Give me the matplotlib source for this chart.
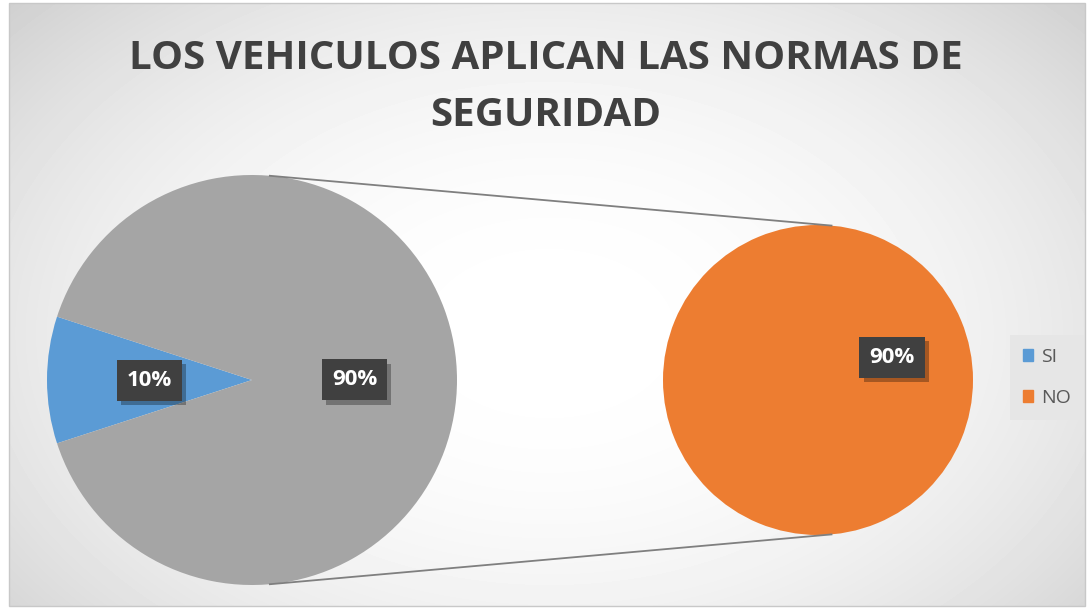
import numpy as np
import matplotlib.pyplot as plt
import matplotlib.patheffects as pe
from matplotlib.patches import Rectangle, Patch

# data
categories = ["SI", "NO"]
values = [10, 90]
main_labels = ["10%", "90%"]      # SI, Otro (grey, split out)
second_values = [90]
second_labels = ["90%"]
title = "LOS VEHICULOS APLICAN LAS NORMAS DE\nSEGURIDAD"

blue = "#5B9BD5"
grey = "#A5A5A5"
orange = "#ED7D31"

W, H = 1091, 611
fig = plt.figure(figsize=(W / 100, H / 100), dpi=100)
ax = fig.add_axes([0, 0, 1, 1])

# radial gradient background inside chart frame
x0, x1, yb, yt = 9, 1085, 5, 608
yy, xx = np.mgrid[0:(yt - yb), 0:(x1 - x0)]
d = np.hypot((xx - 540) / 700, (yy - 330) / 470)
shade = 1 - 0.17 * np.clip(d, 0, 1.2) ** 2.2
ax.imshow(shade, cmap="gray", vmin=0, vmax=1, extent=(x0, x1, yb, yt),
          origin="upper", interpolation="bilinear", zorder=0)
ax.add_patch(Rectangle((x0, yb), x1 - x0, yt - yb, fc="none", ec="#c8c8c8", lw=1, zorder=1))

c1, r1 = (252, H - 380), 205
c2, r2 = (818, H - 380), 155

box = dict(boxstyle="square,pad=0.45", fc="#404040", ec="none")
shadow = [pe.SimplePatchShadow(offset=(3, -3), shadow_rgbFace="black", alpha=0.3), pe.Normal()]

w1, t1 = ax.pie(values, colors=[blue, grey], labels=main_labels, startangle=162,
                center=c1, radius=r1, labeldistance=0.5,
                wedgeprops=dict(linewidth=0))
w2, t2 = ax.pie(second_values, colors=[orange], labels=second_labels, startangle=197,
                center=c2, radius=r2, labeldistance=0.5,
                wedgeprops=dict(linewidth=0))
for t in t1 + t2:
    t.set(ha="center", va="center", color="white", fontsize=16, fontweight="bold",
          family="Open Sans", bbox=box)
    t.get_bbox_patch().set_path_effects(shadow)

# connector lines
a = np.radians(85)
for s in (1, -1):
    ax.plot([c1[0] + r1 * np.cos(a), c2[0] + r2 * np.cos(a)],
            [c1[1] + s * r1 * np.sin(a), c2[1] + s * r2 * np.sin(a)],
            color="#7f7f7f", lw=1.3, zorder=1)

ax.set_xlim(0, W)
ax.set_ylim(0, H)
ax.set_aspect("auto")
ax.axis("off")

fig.text(0.5, 1 - 87 / H, title, ha="center", va="center", fontsize=29,
         fontweight="bold", color="#404040", family="Open Sans", linespacing=1.6)

handles = [Patch(color=blue), Patch(color=orange)]
leg = fig.legend(handles, categories, loc="upper left", bbox_to_anchor=(1010 / W, 1 - 335 / H),
                 borderaxespad=0, frameon=True, fancybox=False, facecolor="#e6e6e6",
                 edgecolor="none", framealpha=1, fontsize=14, handlelength=0.55,
                 handleheight=0.55, handletextpad=0.4, labelspacing=1.2, borderpad=0.65)
for t in leg.get_texts():
    t.set_color("#595959")
    t.set_family("Open Sans")

fig.savefig("out.png", dpi=100)
